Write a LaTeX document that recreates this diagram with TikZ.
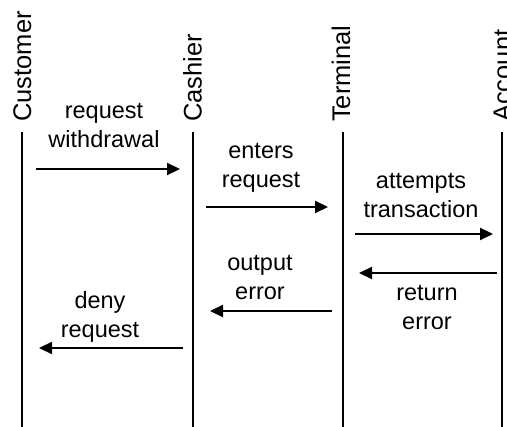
\documentclass[tikz,border=0pt]{standalone}
\usepackage{fontspec}
\setmainfont{Liberation Sans}
\usetikzlibrary{arrows.meta}
\begin{document}
\begin{tikzpicture}[x=1pt,y=-1pt,
  lifeline/.style={line width=2pt},
  actor/.style={rotate=90,anchor=base west,inner sep=0pt,
    font=\fontsize{25.5}{30}\selectfont},
  msg/.style={line width=2.2pt,-{Triangle[length=13pt,width=12pt]}},
  msglabel/.style={anchor=base,inner sep=0pt,align=center,
    font=\fontsize{23.5}{29}\selectfont}]
  \useasboundingbox (0,0) rectangle (507,427);
  \clip (0,0) rectangle (507,427);

  % lifelines
  \coordinate (cuT) at (22,132);  \coordinate (cuB) at (22,427);
  \coordinate (caT) at (193,132); \coordinate (caB) at (193,427);
  \coordinate (teT) at (343,132); \coordinate (teB) at (343,427);
  \coordinate (acT) at (502,132); \coordinate (acB) at (502,427);
  \draw[lifeline] (cuT) -- (cuB);
  \draw[lifeline] (caT) -- (caB);
  \draw[lifeline] (teT) -- (teB);
  \draw[lifeline] (acT) -- (acB);

  % participant names
  \node[actor] (cu) at (31,122) {Customer};
  \node[actor] (ca) at (201.5,122) {Cashier};
  \node[actor] (te) at (350,122) {Terminal};
  \node[actor] (ac) at (511,122) {Account};

  % message end points
  \coordinate (m1a) at (36,169);  \coordinate (m1b) at (180,169);
  \coordinate (m2a) at (206,207); \coordinate (m2b) at (328,207);
  \coordinate (m3a) at (355,234); \coordinate (m3b) at (493,234);
  \coordinate (m4a) at (497,273); \coordinate (m4b) at (359,273);
  \coordinate (m5a) at (332,311); \coordinate (m5b) at (210,311);
  \coordinate (m6a) at (183,348); \coordinate (m6b) at (39,348);

  \draw[msg] (m1a) -- (m1b);
  \draw[msg] (m2a) -- (m2b);
  \draw[msg] (m3a) -- (m3b);
  \draw[msg] (m4a) -- (m4b);
  \draw[msg] (m5a) -- (m5b);
  \draw[msg] (m6a) -- (m6b);

  % message labels (anchored at the baseline of the second line)
  \node[msglabel] (l1) at (104,148) {request\\withdrawal};
  \node[msglabel] (l2) at (261,188) {enters\\request};
  \node[msglabel] (l3) at (421,218) {attempts\\transaction};
  \node[msglabel] (l4) at (260,300) {output\\error};
  \node[msglabel] (l5) at (427,330) {return\\error};
  \node[msglabel] (l6) at (100,338) {deny\\request};
\end{tikzpicture}
\end{document}
